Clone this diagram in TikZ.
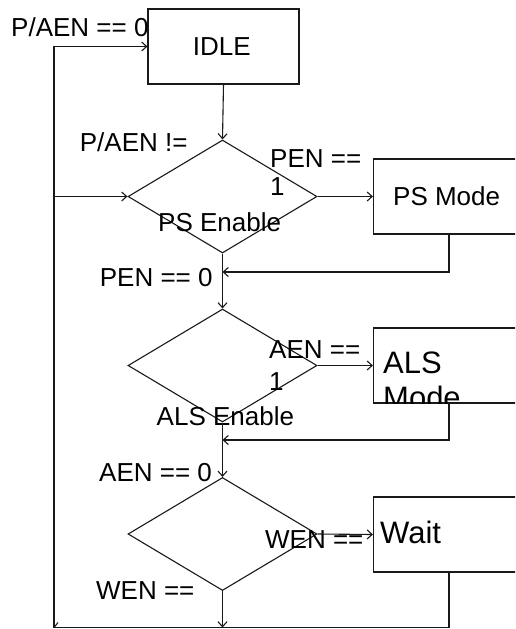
\documentclass[tikz,border=0pt]{standalone}
\usepackage{fontspec}
\setmainfont{Liberation Sans}
\usetikzlibrary{shapes.geometric,arrows.meta}
\begin{document}
\begin{tikzpicture}[x=1pt,y=-1pt,
  plain/.style={line width=1.1pt, draw=black!90},
  conn/.style={plain, -{Straight Barb[length=5pt,width=9pt]}},
  boxn/.style={draw=black!90, line width=1.1pt, rectangle, minimum width=151pt, minimum height=75pt, inner sep=0pt},
  dia/.style={draw=black!90, line width=1.1pt, shape=diamond, minimum width=189pt, minimum height=113pt, inner sep=0pt},
  lbl/.style={anchor=base west, inner sep=0pt, align=left, font=\fontsize{26}{28}\selectfont},
  biglbl/.style={anchor=base west, inner sep=0pt, align=left, font=\fontsize{31}{35}\selectfont}]
\useasboundingbox (0,0) rectangle (515,629);
\clip (0,0) rectangle (515,629);
% shapes
\node[boxn] (idle) at (223.5,46.5) {};
\node[dia] (d1) at (222.5,196.5) {};
\node[boxn] (ps) at (449,196.5) {};
\node[dia] (d2) at (222.5,365.5) {};
\node[boxn] (als) at (449,365.5) {};
\node[dia] (d3) at (222.5,534) {};
\node[boxn] (wait) at (449,534.5) {};
% junction coordinates
\coordinate (corner) at (54,627.5);
\coordinate (bot) at (222.5,627.5);
\coordinate (jps) at (222.5,272);
\coordinate (jals) at (222.5,440);
\coordinate (j0) at (corner |- d1.west);
% texts
\node[lbl] (t1) at (11,36) {P/AEN == 0};
\node[lbl] (t2) at (192.6,55) {IDLE};
\node[lbl] (t3) at (79.7,151) {P/AEN !=};
\node[lbl, font=\fontsize{26}{27.5}\selectfont] (t4) at (270,195) {PEN ==\\1};
\node[lbl] (t5) at (158,231) {PS Enable};
\node[lbl] (t6) at (393,205) {PS Mode};
\node[lbl] (t7) at (99.7,286.7) {PEN == 0};
\node[lbl, font=\fontsize{26}{32}\selectfont] (t8) at (269,390) {AEN ==\\1};
\begin{scope}
  \clip (als.north west) rectangle (als.south east);
  \node[biglbl] (t9) at (383,408) {ALS\\Mode};
\end{scope}
\node[lbl] (t10) at (156.5,425) {ALS Enable};
\node[lbl] (t11) at (99,481.7) {AEN == 0};
\node[lbl] (t12) at (265,548) {WEN ==};
\node[biglbl] (t13) at (380,543) {Wait};
\node[lbl] (t14) at (96,599) {WEN ==};
% connectors
\draw[conn] (corner) |- (idle.west);
\draw[conn] (j0) -- (d1.west);
\draw[conn] (idle.south) -- (d1.north);
\draw[conn] (d1.east) -- (ps.west);
\draw[conn] (ps.south) |- (jps);
\draw[conn] (d1.south) -- (d2.north);
\draw[conn] (d2.east) -- (als.west);
\draw[conn] (als.south) |- (jals);
\draw[conn] (d2.south) -- (d3.north);
\draw[conn] (d3.east) -- (wait.west);
\draw[conn] (d3.south) -- (bot);
\draw[plain] (wait.south) |- (corner);
\draw[plain] (corner) -- ++(4,-5);
\end{tikzpicture}
\end{document}
